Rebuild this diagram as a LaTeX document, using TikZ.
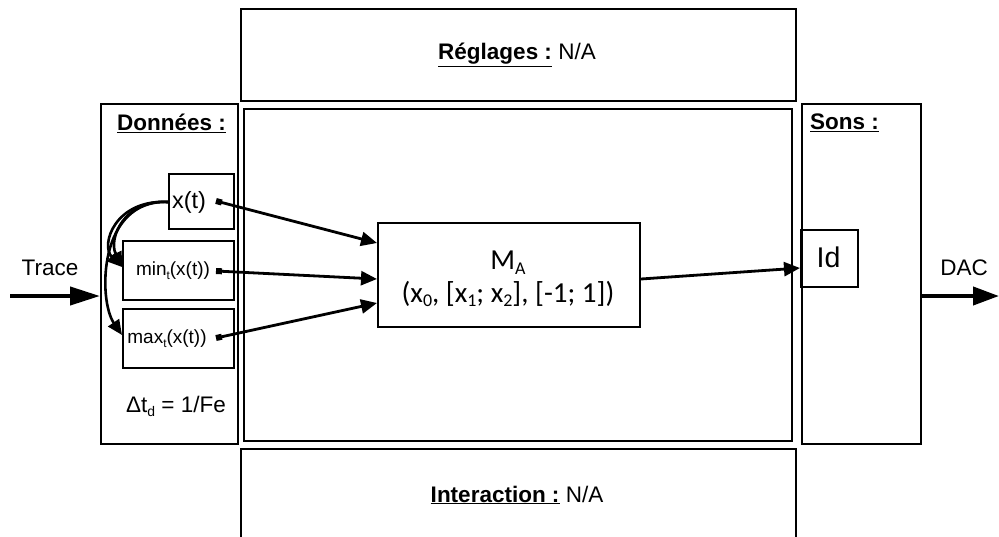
\documentclass[tikz,border=0pt]{standalone}
\usepackage{fontspec}
\setmainfont{Liberation Sans}
\newfontfamily\calib{Carlito}
\usetikzlibrary{arrows.meta}
\newcommand{\lsub}[1]{\raisebox{-0.35ex}{\fontsize{0.62em}{1em}\selectfont #1}}
\begin{document}
\begin{tikzpicture}[x=1pt,y=-1pt,
  box/.style={draw, line width=2pt, inner sep=0pt, anchor=north west},
  lbl/.style={font=\fontsize{22.5}{27}\selectfont, inner sep=0pt},
  small/.style={font=\fontsize{19}{23}\selectfont, inner sep=0pt},
  sig/.style={line width=2.8pt, {Square[length=6pt,width=6pt]}-{Triangle[length=16pt,width=14pt]}},
  curv/.style={line width=2.6pt, -{Triangle[length=15pt,width=13pt]}},
  big/.style={line width=4pt, -{Triangle[length=30pt,width=18pt]}}
]
\useasboundingbox (0,0) rectangle (999,536);
% frames
\node[box, minimum width=555pt, minimum height=92pt] (reg) at (240,8) {};
\node[box, minimum width=548pt, minimum height=332pt] (mid) at (243,108) {};
\node[box, minimum width=137pt, minimum height=340pt] (don) at (100,103) {};
\node[box, minimum width=119pt, minimum height=340pt] (sons) at (801,103) {};
\node[box, minimum width=555pt, minimum height=100pt] (inter) at (240,448) {};
% inner boxes
\node[box, minimum width=65pt, minimum height=55pt] (xt) at (168,173) {};
\node[box, minimum width=111pt, minimum height=59pt] (mn) at (122,240) {};
\node[box, minimum width=111pt, minimum height=59pt] (mx) at (122,308) {};
\node[box, minimum width=262pt, minimum height=104pt] (ma) at (377,222) {};
\node[box, minimum width=57pt, minimum height=57pt] (id) at (800,229) {};
% texts
\node[lbl] (regt) at (517,55) {\underline{\textbf{Réglages :}} N/A};
\node[lbl] (intt) at (517,495) {\underline{\textbf{Interaction :}} N/A};
\node[lbl] (dont) at (171.5,123) {\underline{\textbf{Données :}}};
\node[lbl, anchor=west] (sonst) at (810,123) {\underline{\textbf{Sons :}}};
\node[lbl] (tracet) at (50,268) {Trace};
\node[lbl] (dact) at (964,268) {DAC};
\node[lbl, font=\fontsize{23.5}{28}\selectfont] (xtt) at (189,202) {x(t)};
\node[small] (mnt) at (173,271) {min\lsub{t}(x(t))};
\node[small] (mxt) at (167,339) {max\lsub{t}(x(t))};
\node[lbl] (dtt) at (176,406) {Δt\lsub{d} = 1/Fe};
\node[lbl, font=\fontsize{28.5}{33}\selectfont] (idt) at (828.5,257.5) {Id};
\node[inner sep=0pt, font=\calib\fontsize{29}{34}\selectfont] (mat1) at (508,263) {M\lsub{A}};
\node[inner sep=0pt, font=\calib\fontsize{29}{34}\selectfont] (mat2) at (508,294) {(x\lsub{0}, [x\lsub{1}; x\lsub{2}], [-1; 1])};
% signal coordinates
\coordinate (pxt) at (216,201);
\coordinate (pmn) at (216,271);
\coordinate (pmx) at (216,338);
\draw[sig] (pxt) -- ([yshift=32pt]ma.west);
\draw[sig] (pmn) -- ([yshift=-4pt]ma.west);
\draw[sig] (pmx) -- ([yshift=-28pt]ma.west);
\draw[line width=2.8pt, -{Triangle[length=16pt,width=14pt]}] ([yshift=-4pt]ma.east) -- ([yshift=-9.5pt]id.west);
% curves inside Donnees
\draw[curv] ([yshift=-0.5pt]xt.west) .. controls (125,199) and (108,238) .. ([yshift=3.5pt]mn.west);
\draw[curv] ([yshift=-0.5pt]xt.west) .. controls (115,199) and (100,245) .. ([yshift=3.5pt]mn.west);
\draw[curv] ([yshift=-0.5pt]xt.west) .. controls (98,199) and (98,300) .. ([yshift=3.5pt]mx.west);
% in / out
\coordinate (trin) at (10,296);
\coordinate (dacout) at (999,296);
\draw[big] (trin) -- (don.west |- trin);
\draw[big, -{Triangle[length=26pt,width=18pt]}] (sons.east |- dacout) -- (dacout);
\end{tikzpicture}
\end{document}
